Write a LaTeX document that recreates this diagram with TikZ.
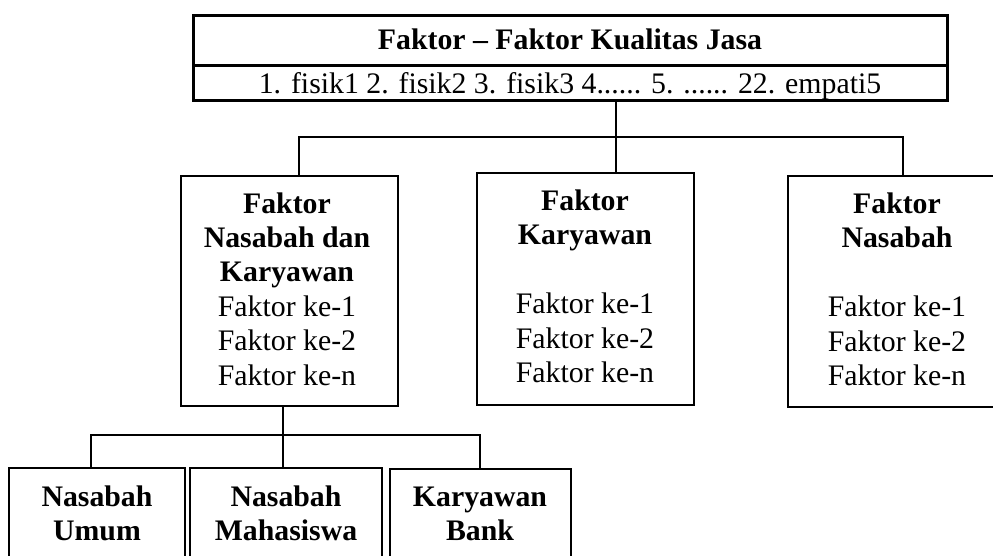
\documentclass[tikz,border=0pt]{standalone}
\usepackage{fontspec}
\setmainfont{Liberation Serif}
\begin{document}
\begin{tikzpicture}[x=1pt,y=-1pt,
  box/.style={draw, line width=2pt, inner sep=0pt, outer sep=0pt},
  topbox/.style={draw, line width=3pt, inner sep=0pt, outer sep=0pt},
  conn/.style={line width=1.8pt},
  txt/.style={inner sep=0pt, anchor=base, align=center, font=\fontsize{29.8}{34.4}\selectfont},
  ttl/.style={inner sep=0pt, anchor=base, align=center, font=\fontsize{29.8}{34.4}\selectfont\bfseries}]
\useasboundingbox (0,0) rectangle (993,556);
\clip (0,0) rectangle (993,556);
% top box
\node[topbox, minimum width=754pt, minimum height=50pt] (row1) at (570,41) {};
\node[topbox, minimum width=754pt, minimum height=35pt] (row2) at (570,83.5) {};
\node[ttl] (t1) at (570,50) {Faktor – Faktor Kualitas Jasa};
\node[txt] (t2) at (570,94) {1. fisik1 2. fisik2 3. fisik3 4...... 5. ...... 22. empati5};
% middle boxes
\node[box, minimum width=217pt, minimum height=230pt] (b1) at (289.5,291) {};
\node[box, minimum width=217pt, minimum height=232pt] (b2) at (585.5,289) {};
\node[box, minimum width=218pt, minimum height=231pt] (b3) at (897,291.5) {};
\node[txt] (b1t) at (287,385) {\bfseries Faktor\\\bfseries Nasabah dan\\\bfseries Karyawan\\Faktor ke-1\\Faktor ke-2\\Faktor ke-n};
\node[txt] (b2t) at (585,382.5) {\bfseries Faktor\\\bfseries Karyawan\\[34.4pt]Faktor ke-1\\Faktor ke-2\\Faktor ke-n};
\node[txt] (b3t) at (897,385.5) {\bfseries Faktor\\\bfseries Nasabah\\[34.4pt]Faktor ke-1\\Faktor ke-2\\Faktor ke-n};
% bottom boxes
\node[box, minimum width=176pt, minimum height=132pt] (c1) at (97,534) {};
\node[box, minimum width=192pt, minimum height=132pt] (c2) at (286,534) {};
\node[box, minimum width=181pt, minimum height=131pt] (c3) at (480.5,534.5) {};
\node[txt, font=\fontsize{29.8}{33.5}\selectfont\bfseries] (c1t) at (97,540) {Nasabah\\Umum};
\node[txt, font=\fontsize{29.8}{33.5}\selectfont\bfseries] (c2t) at (286,540) {Nasabah\\Mahasiswa};
\node[txt, font=\fontsize{29.8}{33.5}\selectfont\bfseries] (c3t) at (480,540) {Karyawan\\Bank};
% connectors top
\coordinate (busL) at (299,137);
\coordinate (busM) at (616,137);
\coordinate (busR) at (903,137);
\draw[conn] (busM |- row2.south) -- (busM |- b2.north);
\draw[conn] (busL |- b1.north) -- (busL) -- (busR) -- (busR |- b3.north);
% connectors bottom
\coordinate (bbL) at (91,435);
\coordinate (bbM) at (283,435);
\coordinate (bbR) at (480,435);
\draw[conn] (bbM |- b1.south) -- (bbM |- c2.north);
\draw[conn] (bbL |- c1.north) -- (bbL) -- (bbR) -- (bbR |- c3.north);
\end{tikzpicture}
\end{document}
